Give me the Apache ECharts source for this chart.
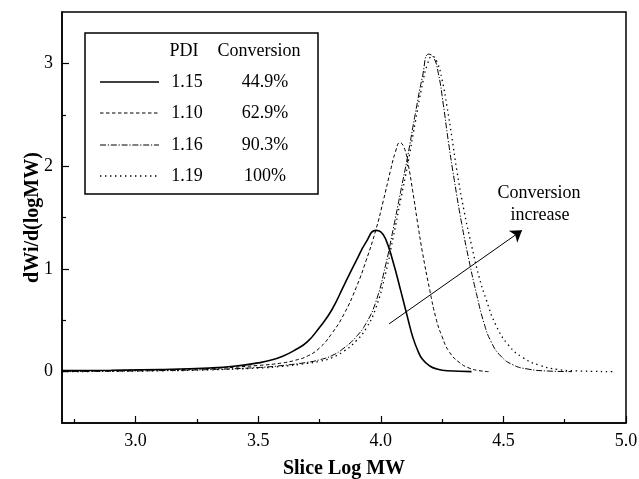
<!DOCTYPE html>
<html><head><meta charset="utf-8">
<script src="https://cdn.jsdelivr.net/npm/echarts@6/dist/echarts.min.js"></script>
<style>html,body{margin:0;padding:0;background:#fff}#c{width:639px;height:479px}</style>
</head><body><div id="c"></div>
<script>
// ---- data ----
const pdiLabels = ['1.15', '1.10', '1.16', '1.19'];
const conversionLabels = ['44.9%', '62.9%', '90.3%', '100%'];
const xMajorTicks = [3.0, 3.5, 4.0, 4.5, 5.0];
const xMinorTicks = [2.75, 3.25, 3.75, 4.25, 4.75];
const yMajorTicks = [0, 1, 2, 3];
const yMinorTicks = [0.5, 1.5, 2.5];

const curve449 = [[2.70,0.010],[2.90,0.013],[3.10,0.020],[3.30,0.035],[3.40,0.052],[3.50,0.085],[3.55,0.110],[3.60,0.150],[3.65,0.210],[3.70,0.290],[3.75,0.430],[3.80,0.600],[3.85,0.840],[3.90,1.080],[3.94,1.260],[3.98,1.375],[4.00,1.360],[4.02,1.290],[4.05,1.070],[4.08,0.800],[4.11,0.520],[4.13,0.340],[4.15,0.210],[4.17,0.120],[4.20,0.055],[4.23,0.025],[4.27,0.008],[4.37,0.000]];
const curve629 = [[2.70,0.005],[2.90,0.010],[3.10,0.018],[3.30,0.030],[3.50,0.060],[3.60,0.085],[3.65,0.110],[3.70,0.150],[3.75,0.230],[3.80,0.370],[3.85,0.560],[3.90,0.820],[3.94,1.080],[3.98,1.380],[4.01,1.660],[4.04,1.960],[4.06,2.140],[4.078,2.230],[4.095,2.180],[4.11,2.040],[4.13,1.760],[4.15,1.450],[4.17,1.160],[4.20,0.790],[4.225,0.520],[4.25,0.340],[4.28,0.190],[4.32,0.090],[4.36,0.035],[4.40,0.010],[4.44,0.000]];
const curve903 = [[2.70,0.000],[2.90,0.004],[3.10,0.010],[3.30,0.020],[3.50,0.040],[3.60,0.060],[3.70,0.090],[3.75,0.115],[3.80,0.155],[3.85,0.230],[3.90,0.340],[3.94,0.470],[3.98,0.680],[4.02,1.040],[4.05,1.380],[4.08,1.740],[4.11,2.100],[4.14,2.500],[4.17,2.870],[4.195,3.090],[4.215,3.060],[4.235,2.900],[4.255,2.600],[4.275,2.250],[4.30,1.860],[4.33,1.440],[4.36,1.080],[4.39,0.760],[4.42,0.480],[4.45,0.290],[4.49,0.150],[4.54,0.065],[4.60,0.025],[4.68,0.006],[4.78,0.000]];
const curve100 = [[2.70,0.000],[2.90,0.003],[3.10,0.008],[3.30,0.017],[3.50,0.035],[3.60,0.052],[3.70,0.080],[3.75,0.100],[3.80,0.135],[3.85,0.200],[3.90,0.300],[3.94,0.420],[3.98,0.620],[4.02,0.960],[4.05,1.300],[4.08,1.660],[4.11,2.020],[4.14,2.420],[4.17,2.800],[4.19,2.990],[4.21,3.070],[4.23,3.010],[4.25,2.840],[4.27,2.580],[4.29,2.280],[4.31,1.960],[4.34,1.560],[4.37,1.230],[4.40,0.930],[4.43,0.700],[4.47,0.450],[4.52,0.260],[4.58,0.135],[4.65,0.060],[4.72,0.022],[4.80,0.007],[4.95,0.000]];
const curves = [curve449, curve629, curve903, curve100];

const arrowStart = [4.034, 0.465];
const arrowEnd = [4.576, 1.375];
const annotationLines = ['Conversion', 'increase'];

// ---- styles ----
const FONT = 'Liberation Serif';
const lineStyles = [
  {type: 'solid', width: 1.6},
  {type: [3.5, 2.5], width: 1},
  {type: [6, 1.8, 1.2, 1.8], width: 1},
  {type: [1.4, 3.6], width: 1.3}
];

const chart = echarts.init(document.getElementById('c'), null, {renderer: 'canvas'});

const series = curves.map((d, i) => ({
  type: 'line',
  data: d,
  showSymbol: false,
  symbol: 'none',
  smooth: 0.5,
  lineStyle: Object.assign({color: '#000'}, lineStyles[i]),
  z: 2 + i,
  silent: true
}));
series.push({
  type: 'line',
  data: [],
  silent: true,
  markLine: {
    silent: true,
    symbol: ['none', 'arrow'],
    symbolSize: 11,
    label: {show: false},
    lineStyle: {color: '#000', width: 1, type: 'solid'},
    data: [[{coord: arrowStart}, {coord: arrowEnd}]]
  }
});

// legend graphic
const legendBox = {x: 85, y: 33, w: 233, h: 161};
const rowY = [82, 113, 145, 176];
const txt = (x, y, s) => ({
  type: 'text', z: 101, x: x, y: y,
  style: {text: s, font: '18px ' + FONT, fill: '#000', align: 'center', verticalAlign: 'middle'}
});
const graphics = [{
  type: 'rect', z: 100,
  shape: {x: legendBox.x, y: legendBox.y, width: legendBox.w, height: legendBox.h},
  style: {fill: '#fff', stroke: '#000', lineWidth: 1.5}
}, txt(184, 51, 'PDI'), txt(259, 51, 'Conversion')];
pdiLabels.forEach((p, i) => {
  const ls = lineStyles[i];
  graphics.push({
    type: 'line', z: 101,
    shape: {x1: 100, y1: rowY[i], x2: 159, y2: rowY[i]},
    style: {stroke: '#000', lineWidth: ls.width, lineDash: ls.type === 'solid' ? null : ls.type}
  });
  graphics.push(txt(187, rowY[i], p));
  graphics.push(txt(265, rowY[i], conversionLabels[i]));
});
graphics.push(txt(539, 193, annotationLines[0]));
graphics.push(txt(540, 215, annotationLines[1]));

const tickStyle = {color: '#000', width: 1.2};
chart.setOption({
  animation: false,
  backgroundColor: '#fff',
  grid: {left: 62, right: 13, top: 12, bottom: 56, show: true, borderColor: '#000', borderWidth: 1.5, containLabel: false, outerBoundsMode: 'none'},
  xAxis: [
    {
      type: 'value', min: 2.7, max: 5.0,
      axisLine: {show: true, onZero: false, lineStyle: {color: '#000', width: 1.5}},
      splitLine: {show: false},
      name: 'Slice Log MW', nameLocation: 'middle', nameGap: 36, nameMoveOverlap: false,
      nameTextStyle: {fontFamily: FONT, fontSize: 20, fontWeight: 'bold', color: '#000'},
      axisTick: {show: true, inside: true, length: 7, lineStyle: tickStyle, customValues: xMajorTicks},
      axisLabel: {fontFamily: FONT, fontSize: 18, color: '#000', margin: 9, customValues: xMajorTicks, formatter: v => v.toFixed(1)}
    },
    {
      type: 'value', min: 2.7, max: 5.0, position: 'bottom',
      axisLine: {show: false, onZero: false}, splitLine: {show: false}, axisLabel: {show: false},
      axisTick: {show: true, inside: true, length: 4, lineStyle: tickStyle, customValues: xMinorTicks}
    }
  ],
  yAxis: [
    {
      type: 'value', min: -0.5, max: 3.5,
      axisLine: {show: true, onZero: false, lineStyle: {color: '#000', width: 1.5}},
      splitLine: {show: false},
      name: 'dWi/d(logMW)', nameLocation: 'middle', nameGap: 19, nameMoveOverlap: false,
      nameTextStyle: {fontFamily: FONT, fontSize: 20, fontWeight: 'bold', color: '#000'},
      axisTick: {show: true, inside: true, length: 7, lineStyle: tickStyle, customValues: yMajorTicks},
      axisLabel: {fontFamily: FONT, fontSize: 18, color: '#000', margin: 9, customValues: yMajorTicks, formatter: v => String(Math.round(v))}
    },
    {
      type: 'value', min: -0.5, max: 3.5, position: 'left',
      axisLine: {show: false, onZero: false}, splitLine: {show: false}, axisLabel: {show: false},
      axisTick: {show: true, inside: true, length: 4, lineStyle: tickStyle, customValues: yMinorTicks}
    }
  ],
  series: series,
  graphic: graphics
});
</script>
</body></html>
